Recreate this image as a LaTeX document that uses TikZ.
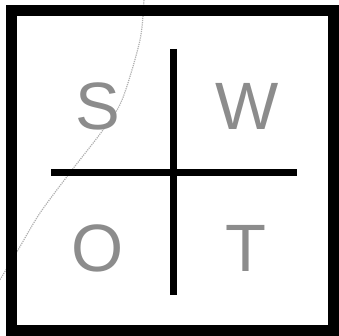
\documentclass[tikz,border=0pt]{standalone}
\usepackage{fontspec}
\setmainfont{Liberation Sans}
\usetikzlibrary{positioning}
\definecolor{LetterGray}{RGB}{140,140,140}
\definecolor{TraceGray}{RGB}{175,175,175}

\begin{document}
\begin{tikzpicture}[x=1pt,y=-1pt]
      \useasboundingbox (0,0) rectangle (339,336);
      % faint trace behind the square
      \draw[TraceGray,densely dotted,line width=1.2pt] plot[smooth] coordinates
        {(144,-2) (140,40) (122,100) (103,130) (72,170) (40,213) (18,250) (-2,283)};
      % frame
      \draw[line width=11pt] (11.5,10.5) rectangle (333,330);
      % cross
      \coordinate (top) at (173,49);
      \coordinate (bot) at (173,295);
      \coordinate (lft) at (51,173);
      \coordinate (rgt) at (297,173);
      \draw[line width=7pt] (top) -- (bot);
      \draw[line width=7pt] (lft) -- (rgt);
      % letters
      \tikzset{letter/.style={LetterGray,inner sep=0pt,
        font=\fontsize{67}{67}\selectfont}}
      \node[letter] (s) at (98,106) {S};
      \node[letter] (w) at (247,106) {W};
      \node[letter] (o) at (98,248) {O};
      \node[letter] (t) at (246,248) {T};
    \end{tikzpicture}
\end{document}
